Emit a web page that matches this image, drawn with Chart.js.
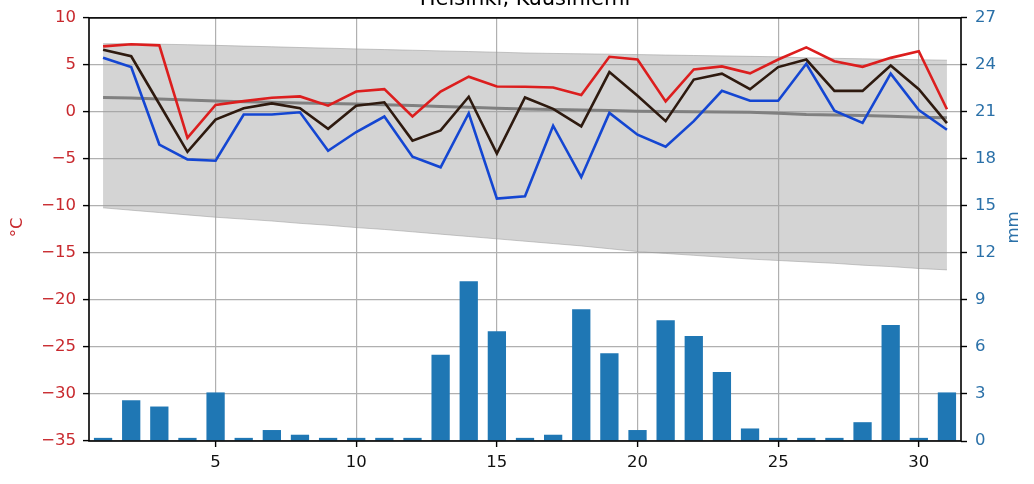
<!DOCTYPE html>
<html>
<head>
<meta charset="utf-8">
<script src="https://cdn.jsdelivr.net/npm/chart.js@4.4.1/dist/chart.umd.min.js"></script>
<style>
  html, body { margin: 0; padding: 0; background: #ffffff; }
  #c { display: block; }
</style>
</head>
<body>
<canvas id="c" width="1034" height="484"></canvas>
<script>
// ---- data ----
const titleText = "Helsinki, Kuusiniemi";
const leftLabel = "°C";
const rightLabel = "mm";
const days = [1,2,3,4,5,6,7,8,9,10,11,12,13,14,15,16,17,18,19,20,21,22,23,24,25,26,27,28,29,30,31];
const tMax  = [6.97, 7.2, 7.08, -2.77, 0.74, 1.15, 1.5, 1.65, 0.66, 2.17, 2.42, -0.49, 2.17, 3.75, 2.7, 2.68, 2.6, 1.79, 5.86, 5.57, 1.12, 4.52, 4.84, 4.1, 5.57, 6.87, 5.4, 4.8, 5.75, 6.45, 0.28];
const tMean = [6.62, 5.92, 0.84, -4.24, -0.81, 0.39, 0.91, 0.39, -1.79, 0.66, 1.02, -3.05, -1.96, 1.61, -4.42, 1.54, 0.32, -1.54, 4.24, 1.72, -0.98, 3.44, 4.07, 2.42, 4.77, 5.57, 2.24, 2.24, 4.94, 2.42, -1.19];
const tMin  = [5.75, 4.77, -3.47, -5.05, -5.19, -0.28, -0.28, -0.04, -4.14, -2.14, -0.49, -4.77, -5.89, -0.14, -9.22, -8.97, -1.47, -6.94, -0.1, -2.42, -3.71, -0.98, 2.24, 1.19, 1.19, 5.12, 0.14, -1.16, 4.07, 0.21, -1.89];
const normMean = [1.54, 1.47, 1.38, 1.28, 1.15, 1.08, 1.02, 0.96, 0.9, 0.84, 0.76, 0.67, 0.58, 0.49, 0.4, 0.32, 0.26, 0.21, 0.14, 0.07, 0.05, 0.03, 0.0, -0.04, -0.14, -0.28, -0.33, -0.39, -0.47, -0.56, -0.63];
const normHigh = [7.26, 7.24, 7.2, 7.15, 7.08, 7.0, 6.93, 6.85, 6.78, 6.7, 6.63, 6.56, 6.49, 6.42, 6.35, 6.27, 6.22, 6.18, 6.14, 6.1, 6.05, 6.0, 5.96, 5.91, 5.86, 5.75, 5.7, 5.65, 5.6, 5.55, 5.5];
const normLow  = [-10.2, -10.45, -10.7, -10.95, -11.2, -11.4, -11.6, -11.85, -12.05, -12.3, -12.5, -12.75, -13.0, -13.25, -13.5, -13.75, -14.0, -14.25, -14.55, -14.85, -15.05, -15.25, -15.45, -15.65, -15.8, -15.95, -16.1, -16.3, -16.45, -16.65, -16.8];
const rain = [0.2, 2.6, 2.2, 0.2, 3.1, 0.2, 0.7, 0.4, 0.2, 0.2, 0.2, 0.2, 5.5, 10.2, 7.0, 0.2, 0.4, 8.4, 5.6, 0.7, 7.7, 6.7, 4.4, 0.8, 0.2, 0.2, 0.2, 1.2, 7.4, 0.2, 3.1];
const xTicks = [5, 10, 15, 20, 25, 30];
const tempTicks = [-35, -30, -25, -20, -15, -10, -5, 0, 5, 10];
const rainTicks = [0, 3, 6, 9, 12, 15, 18, 21, 24, 27];

// ---- build ----
const pts = arr => days.map((d, i) => ({ x: d, y: arr[i] }));
const FONT = "'DejaVu Sans', sans-serif";
const RED = '#c8282d';
const BLUE_T = '#2a70a8';

const framePlugin = {
  id: 'frame',
  afterDraw(chart) {
    const { ctx, chartArea: a } = chart;
    ctx.save();
    ctx.strokeStyle = '#000';
    ctx.lineWidth = 1.6;
    ctx.strokeRect(a.left, a.top, a.right - a.left, a.bottom - a.top);
    // title (partly cut at top)
    ctx.fillStyle = '#000';
    ctx.font = '21px ' + FONT;
    ctx.textAlign = 'center';
    ctx.textBaseline = 'alphabetic';
    ctx.fillText(titleText, (a.left + a.right) / 2, 4.5);
    // axis labels
    ctx.font = '16.5px ' + FONT;
    ctx.textBaseline = 'middle';
    ctx.fillStyle = RED;
    ctx.save();
    ctx.translate(18, (a.top + a.bottom) / 2 - 2);
    ctx.rotate(-Math.PI / 2);
    ctx.fillText(leftLabel, 0, 0);
    ctx.restore();
    ctx.fillStyle = BLUE_T;
    ctx.save();
    ctx.translate(1014, (a.top + a.bottom) / 2 - 2);
    ctx.rotate(-Math.PI / 2);
    ctx.fillText(rightLabel, 0, 0);
    ctx.restore();
    ctx.restore();
  }
};

const lineDs = (label, arr, color, width, order) => ({
  type: 'line', label, data: pts(arr), borderColor: color, borderWidth: width,
  pointRadius: 0, tension: 0, fill: false, yAxisID: 'y', order
});

new Chart(document.getElementById('c'), {
  type: 'bar',
  data: {
    datasets: [
      { type: 'bar', label: 'Sademäärä', data: pts(rain), backgroundColor: '#1f77b4',
        yAxisID: 'y2', barPercentage: 0.65, categoryPercentage: 1.0, order: 0 },
      lineDs('Ylin', tMax, '#dc1e1e', 2.6, 1),
      lineDs('Keski', tMean, '#2e1a0f', 2.6, 2),
      lineDs('Alin', tMin, '#1446d2', 2.6, 3),
      lineDs('Normaali keski', normMean, '#808080', 3, 4),
      { type: 'line', label: 'Normaali ylin', data: pts(normHigh), borderColor: 'rgba(150,150,150,0.5)',
        borderWidth: 1, pointRadius: 0, tension: 0, fill: '+1',
        backgroundColor: 'rgba(160,160,160,0.45)', yAxisID: 'y', order: 5 },
      { type: 'line', label: 'Normaali alin', data: pts(normLow), borderColor: 'rgba(150,150,150,0.5)',
        borderWidth: 1, pointRadius: 0, tension: 0, fill: false, yAxisID: 'y', order: 6 }
    ]
  },
  options: {
    responsive: false,
    animation: false,
    devicePixelRatio: 1,
    layout: { padding: { top: 13, left: 0, right: 0, bottom: 0 } },
    plugins: { legend: { display: false }, tooltip: { enabled: false }, title: { display: false } },
    scales: {
      x: {
        type: 'linear', min: 0.5, max: 31.5, offset: false,
        afterBuildTicks: s => { s.ticks = xTicks.map(v => ({ value: v })); },
        afterFit: s => { s.height = 43; },
        grid: { offset: false, color: '#b0b0b0', lineWidth: 1.2, tickColor: '#000', tickLength: 6, tickWidth: 1.4 },
        border: { display: false },
        ticks: { color: '#111', font: { family: FONT, size: 16.5 }, padding: 6, maxRotation: 0,
                 callback: v => String(v) }
      },
      y: {
        position: 'left', min: -35, max: 10,
        afterBuildTicks: s => { s.ticks = tempTicks.map(v => ({ value: v })); },
        afterFit: s => { s.width = 89; },
        grid: { color: '#b0b0b0', lineWidth: 1.2, tickColor: '#000', tickLength: 6, tickWidth: 1.4 },
        border: { display: false },
        ticks: { color: RED, font: { family: FONT, size: 16.5 }, padding: 7,
                 callback: v => String(v).replace('-', '\u2212') }
      },
      y2: {
        position: 'right', min: 0, max: 27,
        afterBuildTicks: s => { s.ticks = rainTicks.map(v => ({ value: v })); },
        afterFit: s => { s.width = 73; },
        grid: { drawOnChartArea: false, tickColor: '#000', tickLength: 6, tickWidth: 1.4 },
        border: { display: false },
        ticks: { color: BLUE_T, font: { family: FONT, size: 16.5 }, padding: 8,
                 callback: v => String(v) }
      }
    }
  },
  plugins: [framePlugin]
});
</script>
</body>
</html>
